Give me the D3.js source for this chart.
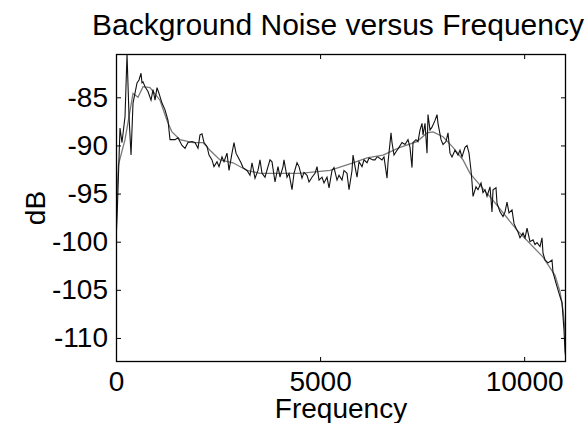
<!DOCTYPE html>
<html><head><meta charset="utf-8">
<script src="https://cdn.jsdelivr.net/npm/d3@7"></script>
<style>body{margin:0;background:#fff}svg{display:block}text{font-family:"Liberation Sans",Arial,sans-serif;fill:#000}</style>
</head><body><svg id="c" width="586" height="423"></svg>
<script>
const title = "Background Noise versus Frequency";
const xLabel = "Frequency";
const yLabel = "dB";
const xTicks = [0, 5000, 10000];
const yTicks = [-85, -90, -95, -100, -105, -110];
const xDomain = [0, 11025];
const yDomain = [-112.5, -80.5];

const noiseFreq = [0,30,98,147,221,270,319,368,417,515,564,613,637,662,711,784,858,907,956,1005,1054,1127,1201,1274,1323,1446,1519,1617,1691,1764,1862,1936,2009,2058,2107,2156,2230,2279,2352,2401,2475,2524,2597,2646,2720,2769,2842,2891,2940,2989,3063,3112,3210,3283,3332,3406,3479,3528,3577,3651,3724,3773,3822,3896,3969,4018,4092,4116,4190,4239,4312,4361,4435,4484,4557,4606,4680,4729,4802,4876,4925,4974,5047,5096,5170,5219,5292,5341,5415,5464,5537,5586,5660,5709,5782,5807,5856,5905,5954,6027,6076,6150,6199,6297,6346,6395,6419,6517,6566,6640,6664,6738,6762,6811,6885,6934,7007,7081,7154,7203,7252,7277,7350,7399,7448,7497,7522,7571,7620,7644,7693,7742,7816,7865,7889,7963,8012,8085,8134,8183,8232,8306,8379,8428,8477,8551,8600,8649,8698,8722,8747,8820,8869,8943,8992,9041,9090,9163,9212,9237,9310,9335,9408,9482,9531,9580,9629,9702,9751,9800,9849,9898,9972,10021,10070,10143,10217,10266,10315,10388,10437,10462,10511,10584,10682,10707,10780,10829,10878,10927,10952,10976,11001,11025];
const noiseDb = [-100,-97,-88.2,-89.7,-87,-80.5,-87,-91,-85.6,-83.5,-83.2,-82.5,-83.5,-83.4,-83.9,-84.4,-85.3,-84.2,-85.3,-84,-84.6,-85.6,-86.3,-87.4,-89.4,-89.4,-89.2,-90,-90.3,-89.7,-89.6,-89.7,-90.3,-88.9,-88.8,-89.7,-90.1,-91,-91.5,-92.2,-91.7,-92.2,-91.2,-91.7,-90.8,-92.6,-90.8,-89.7,-90.8,-91.2,-91.8,-92.3,-92.6,-93.1,-91.8,-93.4,-92.6,-91.5,-92.9,-93.3,-92.2,-91.5,-91.7,-93.8,-92.2,-93.3,-92.2,-91.5,-93.3,-92.9,-94.6,-92.9,-91.8,-92.2,-93.4,-92.8,-93.1,-93.8,-93.3,-92.9,-92.2,-93.6,-93.3,-93.9,-93.3,-94.4,-92.6,-92.3,-93.6,-93.1,-93.6,-92.6,-92.9,-94.6,-92.6,-91,-92.2,-93.3,-91.7,-92.2,-91.5,-91.8,-91.3,-91.5,-91.5,-91.2,-91.2,-91.5,-91.2,-93.4,-91.8,-88.7,-89.7,-91,-90.5,-90.2,-89.7,-89.9,-89.4,-90.2,-92.3,-89.7,-89.4,-89.6,-88.4,-87.7,-88.9,-87.7,-90.8,-86.8,-88.4,-88.1,-87.4,-86.8,-87.7,-89.4,-89.9,-89.6,-88.7,-90.8,-91.2,-90.5,-91,-90.5,-91.2,-90.2,-90,-90.8,-92.6,-93.8,-95.3,-94.3,-94.6,-93.9,-94.9,-94.6,-95.3,-94.3,-96.9,-94.6,-94.4,-96,-96.9,-97.4,-96.9,-95.9,-97,-96.7,-98.1,-98.6,-99,-99.6,-99.1,-99.6,-98.6,-100,-99.8,-100.3,-100.1,-100.5,-99.6,-101.2,-101.9,-102.2,-101.9,-103.2,-104.3,-105,-105.7,-106.3,-107.8,-109.2,-111.4,-112.2];

const smoothFreq = [0,60,221,417,539,662,833,1078,1250,1372,1568,1887,2132,2303,2548,2867,3210,3528,4018,4508,5243,5807,6150,6542,6958,7375,7620,7767,8012,8257,8502,8673,9237,9825,10462,10756,10878,10952,11001,11025];
const smoothDb = [-97,-92,-89.4,-84.6,-85,-83.9,-84,-85.3,-87.4,-88.6,-89.4,-89.7,-89.7,-90.5,-91.5,-91.8,-92.6,-92.9,-92.9,-92.9,-92.6,-91.8,-91.3,-91,-90.2,-89.6,-88.7,-88.6,-89.1,-90.2,-91.5,-92.9,-95.7,-98.8,-101.6,-103.5,-105.2,-107.1,-109.2,-110.7];

const svg = d3.select("#c");
const m = {l:116, r:566, t:54, b:362};
const x = d3.scaleLinear().domain(xDomain).range([m.l, m.r]);
const y = d3.scaleLinear().domain(yDomain).range([m.b, m.t]);
const fs = 28;

svg.append("clipPath").attr("id","pc").append("rect")
  .attr("x", m.l).attr("y", m.t).attr("width", m.r-m.l).attr("height", m.b-m.t);

const line = d3.line().x(d=>x(d[0])).y(d=>y(d[1]));
const g = svg.append("g").attr("clip-path","url(#pc)");
g.append("path").datum(smoothFreq.map((f,i)=>[f,smoothDb[i]]))
  .attr("d", line).attr("fill","none").attr("stroke","#7a7a7a").attr("stroke-width",1.3);
g.append("path").datum(noiseFreq.map((f,i)=>[f,noiseDb[i]]))
  .attr("d", line).attr("fill","none").attr("stroke","#111").attr("stroke-width",1.1);

svg.append("rect").attr("x", m.l+0.5).attr("y", m.t+0.5).attr("width", m.r-m.l-1).attr("height", m.b-m.t-1)
  .attr("fill","none").attr("stroke","#000").attr("stroke-width",1.3);

const tl = 5;
const xb = svg.append("g").attr("transform",`translate(0,${m.b})`)
  .call(d3.axisBottom(x).tickValues(xTicks).tickSizeInner(-tl).tickSizeOuter(0).tickPadding(9).tickFormat(d3.format("d")));
const xt = svg.append("g").attr("transform",`translate(0,${m.t})`)
  .call(d3.axisTop(x).tickValues(xTicks).tickSizeInner(-tl).tickSizeOuter(0).tickFormat(""));
const yl = svg.append("g").attr("transform",`translate(${m.l},0)`)
  .call(d3.axisLeft(y).tickValues(yTicks).tickSizeInner(-tl).tickSizeOuter(0).tickPadding(8).tickFormat(d3.format("d")));
const yr = svg.append("g").attr("transform",`translate(${m.r},0)`)
  .call(d3.axisRight(y).tickValues(yTicks).tickSizeInner(-tl).tickSizeOuter(0).tickFormat(""));
[xb,xt,yl,yr].forEach(a=>{a.select(".domain").remove(); a.selectAll("line").attr("stroke","#000");});
[xb,yl].forEach(a=>a.selectAll("text").attr("font-size",fs).attr("font-family","Liberation Sans, Arial, sans-serif").attr("fill","#000"));
yl.selectAll("text").text(d=>String(d).replace("\u2212","-"));
xb.selectAll("text").attr("dy","0.72em");

svg.append("text").attr("x", (m.l+m.r)/2).attr("y", 418).attr("text-anchor","middle")
  .attr("font-size", fs).text(xLabel);
svg.append("text").attr("transform",`translate(45,${(m.t+m.b)/2}) rotate(-90)`).attr("text-anchor","middle")
  .attr("font-size", fs).text(yLabel);
svg.append("text").attr("x", 338).attr("y", 35).attr("text-anchor","middle")
  .attr("font-size", 30).text(title);
</script></body></html>
